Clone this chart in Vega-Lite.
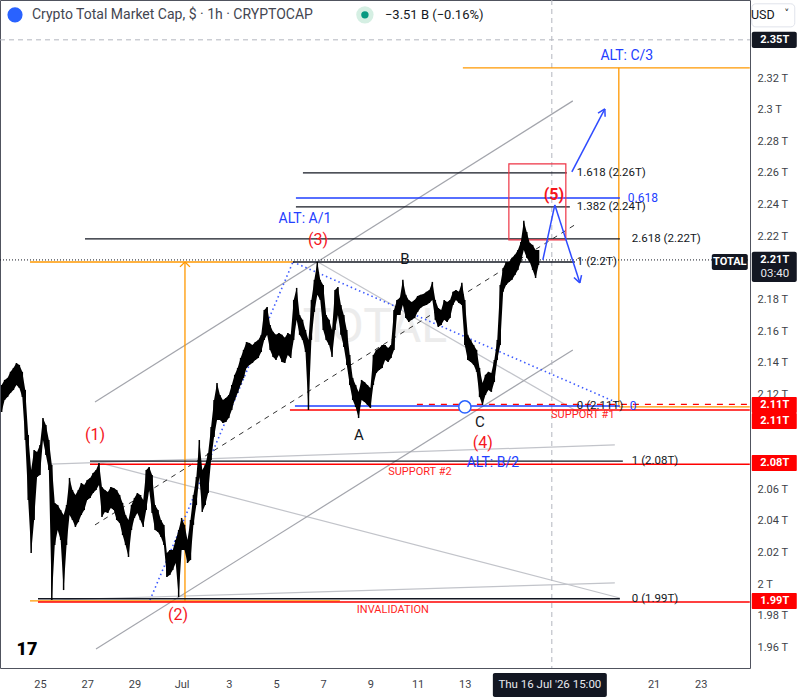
{
"$schema":"https://vega.github.io/schema/vega-lite/v6.json",
"width":750,"height":668,
"autosize":{"type":"none"},
"padding":{"left":0,"top":0,"right":50,"bottom":32},
"background":"#ffffff",
"config":{"view":{"stroke":"#50535e","strokeWidth":1},"font":"Roboto","text":{"font":"Roboto"}},
"encoding":{
 "x":{"field":"t","type":"temporal",
  "scale":{"domain":[{"year":2026,"month":"jun","date":23,"hours":7,"minutes":19},{"year":2026,"month":"jul","date":25,"hours":2,"minutes":2}]},
  "axis":{"title":null,"values":[{"year":2026,"month":"jun","date":25},{"year":2026,"month":"jun","date":27},{"year":2026,"month":"jun","date":29},{"year":2026,"month":"jul","date":1},{"year":2026,"month":"jul","date":3},{"year":2026,"month":"jul","date":5},{"year":2026,"month":"jul","date":7},{"year":2026,"month":"jul","date":9},{"year":2026,"month":"jul","date":11},{"year":2026,"month":"jul","date":13},{"year":2026,"month":"jul","date":21},{"year":2026,"month":"jul","date":23}],
   "labelExpr":"date(datum.value) == 1 ? 'Jul' : '' + date(datum.value)",
   "ticks":false,"tickSize":0,"domain":false,"grid":false,"labelPadding":10,"labelFontSize":11,"labelColor":"#3d3f48","labelFlush":false,"labelOverlap":false}},
 "y":{"field":"v","type":"quantitative",
  "scale":{"domain":[1.9469,2.3694],"zero":false,"nice":false},
  "axis":{"title":null,"orient":"right","values":[1.96,1.98,2,2.02,2.04,2.06,2.12,2.14,2.16,2.18,2.22,2.24,2.26,2.28,2.3,2.32],
   "labelExpr":"format(datum.value, '.2~f') + ' T'","ticks":false,"tickSize":0,"domain":false,"grid":false,"labelPadding":7,"labelFontSize":11,"labelColor":"#3d3f48","labelAlign":"left","labelBaseline":"middle","labelFlush":false,"labelOverlap":false}}
},
"datasets":{"candles":[
  {"t":"2026-06-23T09:00","v":2.1259,"v2":2.1088},{"t":"2026-06-23T12:00","v":2.1291,"v2":2.1164},{"t":"2026-06-23T15:00","v":2.1304,"v2":2.1183},{"t":"2026-06-23T18:00","v":2.1342,"v2":2.1209},{"t":"2026-06-23T21:00","v":2.1367,"v2":2.1228},
  {"t":"2026-06-24T00:00","v":2.1398,"v2":2.1259},{"t":"2026-06-24T03:00","v":2.1386,"v2":2.1240},{"t":"2026-06-24T06:00","v":2.1342,"v2":2.1183},{"t":"2026-06-24T09:00","v":2.1228,"v2":2.0911},{"t":"2026-06-24T12:00","v":2.0943,"v2":2.0532},{"t":"2026-06-24T15:00","v":2.0721,"v2":2.0196},{"t":"2026-06-24T18:00","v":2.0848,"v2":2.0405},{"t":"2026-06-24T21:00","v":2.0835,"v2":2.0677},
  {"t":"2026-06-25T00:00","v":2.0880,"v2":2.0690},{"t":"2026-06-25T03:00","v":2.1050,"v2":2.0911},{"t":"2026-06-25T06:00","v":2.1006,"v2":2.0816},{"t":"2026-06-25T09:00","v":2.0911,"v2":2.0721},{"t":"2026-06-25T12:00","v":2.0753,"v2":1.9899},{"t":"2026-06-25T15:00","v":2.0513,"v2":2.0247},{"t":"2026-06-25T18:00","v":2.0500,"v2":2.0342},{"t":"2026-06-25T21:00","v":2.0468,"v2":2.0279},
  {"t":"2026-06-26T00:00","v":2.0437,"v2":1.9962},{"t":"2026-06-26T03:00","v":2.0500,"v2":2.0247},{"t":"2026-06-26T06:00","v":2.0671,"v2":2.0437},{"t":"2026-06-26T09:00","v":2.0595,"v2":2.0405},{"t":"2026-06-26T12:00","v":2.0563,"v2":2.0361},{"t":"2026-06-26T15:00","v":2.0595,"v2":2.0392},{"t":"2026-06-26T18:00","v":2.0639,"v2":2.0437},{"t":"2026-06-26T21:00","v":2.0627,"v2":2.0468},
  {"t":"2026-06-27T00:00","v":2.0658,"v2":2.0532},{"t":"2026-06-27T03:00","v":2.0671,"v2":2.0544},{"t":"2026-06-27T06:00","v":2.0702,"v2":2.0576},{"t":"2026-06-27T09:00","v":2.0721,"v2":2.0595},{"t":"2026-06-27T12:00","v":2.0766,"v2":2.0627},{"t":"2026-06-27T15:00","v":2.0614,"v2":2.0424},{"t":"2026-06-27T18:00","v":2.0595,"v2":2.0456},{"t":"2026-06-27T21:00","v":2.0582,"v2":2.0449},
  {"t":"2026-06-28T00:00","v":2.0614,"v2":2.0481},{"t":"2026-06-28T03:00","v":2.0608,"v2":2.0468},{"t":"2026-06-28T06:00","v":2.0595,"v2":2.0405},{"t":"2026-06-28T09:00","v":2.0563,"v2":2.0386},{"t":"2026-06-28T12:00","v":2.0513,"v2":2.0310},{"t":"2026-06-28T15:00","v":2.0437,"v2":2.0247},{"t":"2026-06-28T18:00","v":2.0405,"v2":2.0171},{"t":"2026-06-28T21:00","v":2.0500,"v2":2.0342},
  {"t":"2026-06-29T00:00","v":2.0544,"v2":2.0418},{"t":"2026-06-29T03:00","v":2.0576,"v2":2.0449},{"t":"2026-06-29T06:00","v":2.0563,"v2":2.0405},{"t":"2026-06-29T09:00","v":2.0532,"v2":2.0361},{"t":"2026-06-29T12:00","v":2.0721,"v2":2.0468},{"t":"2026-06-29T15:00","v":2.0740,"v2":2.0595},{"t":"2026-06-29T18:00","v":2.0690,"v2":2.0449},{"t":"2026-06-29T21:00","v":2.0500,"v2":2.0342},
  {"t":"2026-06-30T00:00","v":2.0468,"v2":2.0329},{"t":"2026-06-30T03:00","v":2.0405,"v2":2.0298},{"t":"2026-06-30T06:00","v":2.0374,"v2":2.0247},{"t":"2026-06-30T09:00","v":2.0196,"v2":2.0045},{"t":"2026-06-30T12:00","v":2.0215,"v2":2.0057},{"t":"2026-06-30T15:00","v":2.0215,"v2":2.0089},{"t":"2026-06-30T18:00","v":2.0279,"v2":2.0133},{"t":"2026-06-30T21:00","v":2.0342,"v2":1.9918},
  {"t":"2026-07-01T00:00","v":2.0418,"v2":2.0215},{"t":"2026-07-01T03:00","v":2.0374,"v2":2.0215},{"t":"2026-07-01T06:00","v":2.0279,"v2":2.0133},{"t":"2026-07-01T09:00","v":2.0405,"v2":2.0152},{"t":"2026-07-01T12:00","v":2.0563,"v2":2.0374},{"t":"2026-07-01T15:00","v":2.0677,"v2":2.0500},{"t":"2026-07-01T18:00","v":2.0911,"v2":2.0677},{"t":"2026-07-01T21:00","v":2.0721,"v2":2.0456},
  {"t":"2026-07-02T00:00","v":2.0753,"v2":2.0500},{"t":"2026-07-02T03:00","v":2.0829,"v2":2.0576},{"t":"2026-07-02T06:00","v":2.0994,"v2":2.0785},{"t":"2026-07-02T09:00","v":2.1164,"v2":2.0930},{"t":"2026-07-02T12:00","v":2.1272,"v2":2.1038},{"t":"2026-07-02T15:00","v":2.1196,"v2":2.1038},{"t":"2026-07-02T18:00","v":2.1164,"v2":2.1019},{"t":"2026-07-02T21:00","v":2.1177,"v2":2.1025},
  {"t":"2026-07-03T00:00","v":2.1196,"v2":2.1050},{"t":"2026-07-03T03:00","v":2.1259,"v2":2.1101},{"t":"2026-07-03T06:00","v":2.1323,"v2":2.1164},{"t":"2026-07-03T09:00","v":2.1367,"v2":2.1209},{"t":"2026-07-03T12:00","v":2.1430,"v2":2.1259},{"t":"2026-07-03T15:00","v":2.1481,"v2":2.1304},{"t":"2026-07-03T18:00","v":2.1531,"v2":2.1367},{"t":"2026-07-03T21:00","v":2.1525,"v2":2.1386},
  {"t":"2026-07-04T00:00","v":2.1512,"v2":2.1398},{"t":"2026-07-04T03:00","v":2.1531,"v2":2.1417},{"t":"2026-07-04T06:00","v":2.1544,"v2":2.1430},{"t":"2026-07-04T09:00","v":2.1576,"v2":2.1468},{"t":"2026-07-04T12:00","v":2.1734,"v2":2.1544},{"t":"2026-07-04T15:00","v":2.1753,"v2":2.1576},{"t":"2026-07-04T18:00","v":2.1639,"v2":2.1481},{"t":"2026-07-04T21:00","v":2.1595,"v2":2.1436},
  {"t":"2026-07-05T00:00","v":2.1576,"v2":2.1417},{"t":"2026-07-05T03:00","v":2.1588,"v2":2.1449},{"t":"2026-07-05T06:00","v":2.1576,"v2":2.1405},{"t":"2026-07-05T09:00","v":2.1557,"v2":2.1398},{"t":"2026-07-05T12:00","v":2.1588,"v2":2.1449},{"t":"2026-07-05T15:00","v":2.1576,"v2":2.1430},{"t":"2026-07-05T18:00","v":2.1797,"v2":2.1544},{"t":"2026-07-05T21:00","v":2.1873,"v2":2.1671},
  {"t":"2026-07-06T00:00","v":2.1702,"v2":2.1576},{"t":"2026-07-06T03:00","v":2.1671,"v2":2.1544},{"t":"2026-07-06T06:00","v":2.1607,"v2":2.1468},{"t":"2026-07-06T09:00","v":2.1544,"v2":2.1101},{"t":"2026-07-06T12:00","v":2.1797,"v2":2.1544},{"t":"2026-07-06T15:00","v":2.1924,"v2":2.1721},{"t":"2026-07-06T18:00","v":2.2037,"v2":2.1829},{"t":"2026-07-06T21:00","v":2.1924,"v2":2.1797},
  {"t":"2026-07-07T00:00","v":2.1892,"v2":2.1607},{"t":"2026-07-07T03:00","v":2.1702,"v2":2.1544},{"t":"2026-07-07T06:00","v":2.1671,"v2":2.1512},{"t":"2026-07-07T09:00","v":2.1607,"v2":2.1436},{"t":"2026-07-07T12:00","v":2.1860,"v2":2.1607},{"t":"2026-07-07T15:00","v":2.1879,"v2":2.1702},{"t":"2026-07-07T18:00","v":2.1765,"v2":2.1576},{"t":"2026-07-07T21:00","v":2.1702,"v2":2.1500},
  {"t":"2026-07-08T00:00","v":2.1607,"v2":2.1386},{"t":"2026-07-08T03:00","v":2.1449,"v2":2.1259},{"t":"2026-07-08T06:00","v":2.1304,"v2":2.1164},{"t":"2026-07-08T09:00","v":2.1259,"v2":2.1120},{"t":"2026-07-08T12:00","v":2.1215,"v2":2.1050},{"t":"2026-07-08T15:00","v":2.1291,"v2":2.1164},{"t":"2026-07-08T18:00","v":2.1278,"v2":2.1152},{"t":"2026-07-08T21:00","v":2.1259,"v2":2.1133},
  {"t":"2026-07-09T00:00","v":2.1240,"v2":2.1114},{"t":"2026-07-09T03:00","v":2.1449,"v2":2.1259},{"t":"2026-07-09T06:00","v":2.1481,"v2":2.1335},{"t":"2026-07-09T09:00","v":2.1493,"v2":2.1354},{"t":"2026-07-09T12:00","v":2.1512,"v2":2.1367},{"t":"2026-07-09T15:00","v":2.1512,"v2":2.1417},{"t":"2026-07-09T18:00","v":2.1493,"v2":2.1405},{"t":"2026-07-09T21:00","v":2.1512,"v2":2.1430},
  {"t":"2026-07-10T00:00","v":2.1734,"v2":2.1481},{"t":"2026-07-10T03:00","v":2.1797,"v2":2.1702},{"t":"2026-07-10T06:00","v":2.1810,"v2":2.1702},{"t":"2026-07-10T09:00","v":2.1924,"v2":2.1765},{"t":"2026-07-10T12:00","v":2.1829,"v2":2.1683},{"t":"2026-07-10T15:00","v":2.1797,"v2":2.1658},{"t":"2026-07-10T18:00","v":2.1784,"v2":2.1671},{"t":"2026-07-10T21:00","v":2.1797,"v2":2.1683},
  {"t":"2026-07-11T00:00","v":2.1822,"v2":2.1721},{"t":"2026-07-11T03:00","v":2.1829,"v2":2.1746},{"t":"2026-07-11T06:00","v":2.1835,"v2":2.1759},{"t":"2026-07-11T09:00","v":2.1848,"v2":2.1765},{"t":"2026-07-11T12:00","v":2.1860,"v2":2.1778},{"t":"2026-07-11T15:00","v":2.1911,"v2":2.1797},{"t":"2026-07-11T18:00","v":2.1797,"v2":2.1671},{"t":"2026-07-11T21:00","v":2.1746,"v2":2.1626},
  {"t":"2026-07-12T00:00","v":2.1734,"v2":2.1639},{"t":"2026-07-12T03:00","v":2.1797,"v2":2.1671},{"t":"2026-07-12T06:00","v":2.1784,"v2":2.1658},{"t":"2026-07-12T09:00","v":2.1797,"v2":2.1683},{"t":"2026-07-12T12:00","v":2.1848,"v2":2.1765},{"t":"2026-07-12T15:00","v":2.1860,"v2":2.1797},{"t":"2026-07-12T18:00","v":2.1848,"v2":2.1778},{"t":"2026-07-12T21:00","v":2.1905,"v2":2.1765},
  {"t":"2026-07-13T00:00","v":2.1797,"v2":2.1512},{"t":"2026-07-13T03:00","v":2.1576,"v2":2.1417},{"t":"2026-07-13T06:00","v":2.1544,"v2":2.1405},{"t":"2026-07-13T09:00","v":2.1512,"v2":2.1386},{"t":"2026-07-13T12:00","v":2.1481,"v2":2.1342},{"t":"2026-07-13T15:00","v":2.1367,"v2":2.1183},{"t":"2026-07-13T18:00","v":2.1272,"v2":2.1133},{"t":"2026-07-13T21:00","v":2.1323,"v2":2.1196},
  {"t":"2026-07-14T00:00","v":2.1342,"v2":2.1228},{"t":"2026-07-14T03:00","v":2.1335,"v2":2.1215},{"t":"2026-07-14T06:00","v":2.1417,"v2":2.1278},{"t":"2026-07-14T09:00","v":2.1544,"v2":2.1417},{"t":"2026-07-14T12:00","v":2.1892,"v2":2.1512},{"t":"2026-07-14T15:00","v":2.1999,"v2":2.1848},{"t":"2026-07-14T18:00","v":2.2037,"v2":2.1892},{"t":"2026-07-14T21:00","v":2.2037,"v2":2.1911},
  {"t":"2026-07-15T00:00","v":2.2063,"v2":2.1924},{"t":"2026-07-15T03:00","v":2.2082,"v2":2.1955},{"t":"2026-07-15T06:00","v":2.2113,"v2":2.1987},{"t":"2026-07-15T09:00","v":2.2164,"v2":2.2037},{"t":"2026-07-15T12:00","v":2.2297,"v2":2.2113},{"t":"2026-07-15T15:00","v":2.2227,"v2":2.2063},{"t":"2026-07-15T18:00","v":2.2158,"v2":2.2037},{"t":"2026-07-15T21:00","v":2.2145,"v2":2.1987},
  {"t":"2026-07-16T00:00","v":2.2113,"v2":2.1936},{"t":"2026-07-16T03:00","v":2.2113,"v2":2.2018}]},
"layer":[
 {"data":{"values":[{"t":"2026-07-09T04:35","v":2.1620,"label":"TOTAL"}]},
  "mark":{"type":"text","fontSize":48,"color":"#ececec","align":"center","baseline":"middle"},
  "encoding":{"text":{"field":"label"}}},
 {"data":{"values":[
  {"t":"2026-06-25T10:10","v":2.0759,"t2":"2026-07-19T08:34","v2":2.0880},
  {"t":"2026-06-27T13:00","v":2.0766,"t2":"2026-07-19T13:40","v2":1.9912},
  {"t":"2026-06-25T10:10","v":1.9899,"t2":"2026-07-19T08:34","v2":2.0007},
  {"t":"2026-07-06T18:38","v":2.2037,"t2":"2026-07-17T20:59","v2":2.1082}]},
  "mark":{"type":"rule","color":"#c2c4ca","strokeWidth":1.2},
  "encoding":{"x2":{"field":"t2"},"y2":{"field":"v2"}}},
 {"data":{"values":[
  {"t":"2026-06-27T07:55","v":2.1152,"t2":"2026-07-17T13:52","v2":2.3056},
  {"t":"2026-06-27T08:56","v":1.9589,"t2":"2026-07-17T13:52","v2":2.1481}]},
  "mark":{"type":"rule","color":"#a3a5ac","strokeWidth":1.2},
  "encoding":{"x2":{"field":"t2"},"y2":{"field":"v2"}}},
 {"data":{"values":[{"t":"2026-06-27T07:55","v":2.0374,"t2":"2026-07-17T15:55","v2":2.2272}]},
  "mark":{"type":"rule","color":"#333333","strokeWidth":1,"strokeDash":[5,5]},
  "encoding":{"x2":{"field":"t2"},"y2":{"field":"v2"}}},
 {"data":{"values":[
  {"t":"2026-06-23T07:19","v":2.3442,"t2":"2026-07-25T02:00","v2":2.3442},
  {"t":"2026-07-16T16:30","v":2.3694,"t2":"2026-07-16T16:30","v2":1.9469}]},
  "mark":{"type":"rule","color":"#b2b5be","strokeWidth":1,"strokeDash":[5,4]},
  "encoding":{"x2":{"field":"t2"},"y2":{"field":"v2"}}},
 {"data":{"values":[
  {"t":"2026-06-24T13:50","v":2.2037,"t2":"2026-07-05T17:13","v2":2.2037},
  {"t":"2026-07-01T03:25","v":2.2037,"t2":"2026-07-01T03:25","v2":1.9893},
  {"t":"2026-06-24T13:50","v":1.9893,"t2":"2026-07-07T17:00","v2":1.9893},
  {"t":"2026-07-12T22:02","v":2.3265,"t2":"2026-07-25T01:49","v2":2.3265},
  {"t":"2026-07-19T12:38","v":2.3265,"t2":"2026-07-19T12:38","v2":2.1120},
  {"t":"2026-07-19T12:38","v":2.1120,"t2":"2026-07-25T01:49","v2":2.1120},
  {"t":"2026-06-30T22:20","v":2.2006,"t2":"2026-07-01T03:25","v2":2.2037},
  {"t":"2026-07-01T08:30","v":2.2006,"t2":"2026-07-01T03:25","v2":2.2037}]},
  "mark":{"type":"rule","color":"#ff9800","strokeWidth":1.3},
  "encoding":{"x2":{"field":"t2"},"y2":{"field":"v2"}}},
 {"data":{"values":[
  {"t":"2026-06-29T15:50","v":1.9899,"t2":"2026-07-05T17:13","v2":2.2037},
  {"t":"2026-07-05T17:13","v":2.2037,"t2":"2026-07-19T11:37","v2":2.1145}]},
  "mark":{"type":"rule","color":"#3d5afe","strokeWidth":1.6,"strokeDash":[1.5,3]},
  "encoding":{"x2":{"field":"t2"},"y2":{"field":"v2"}}},
 {"data":{"values":[
  {"t":"2026-06-26T21:45","v":2.2183,"t2":"2026-07-19T13:40","v2":2.2183},
  {"t":"2026-07-05T17:13","v":2.2037,"t2":"2026-07-17T15:55","v2":2.2037},
  {"t":"2026-07-05T20:16","v":2.2385,"t2":"2026-07-17T10:49","v2":2.2385},
  {"t":"2026-07-06T03:23","v":2.2601,"t2":"2026-07-17T07:46","v2":2.2601},
  {"t":"2026-06-27T02:50","v":2.0778,"t2":"2026-07-19T16:43","v2":2.0778},
  {"t":"2026-06-24T21:58","v":1.9907,"t2":"2026-07-19T13:40","v2":1.9907}]},
  "mark":{"type":"rule","color":"#131722","strokeWidth":1.3},
  "encoding":{"x2":{"field":"t2"},"y2":{"field":"v2"}}},
 {"data":{"values":[
  {"t":"2026-07-05T20:16","v":2.2442,"t2":"2026-07-19T13:40","v2":2.2442},
  {"t":"2026-07-05T19:15","v":2.1126,"t2":"2026-07-19T13:40","v2":2.1126}]},
  "mark":{"type":"rule","color":"#1f3fff","strokeWidth":1.5},
  "encoding":{"x2":{"field":"t2"},"y2":{"field":"v2"}}},
 {"data":{"values":[
  {"t":"2026-07-05T14:10","v":2.1101,"t2":"2026-07-25T01:49","v2":2.1101},
  {"t":"2026-06-27T02:50","v":2.0758,"t2":"2026-07-25T01:49","v2":2.0758},
  {"t":"2026-06-24T21:58","v":1.9887,"t2":"2026-07-25T01:49","v2":1.9887}]},
  "mark":{"type":"rule","color":"#ff0000","strokeWidth":1.5},
  "encoding":{"x2":{"field":"t2"},"y2":{"field":"v2"}}},
 {"data":{"values":[{"t":"2026-07-10T23:17","v":2.1136,"t2":"2026-07-25T01:49","v2":2.1136}]},
  "mark":{"type":"rule","color":"#ff0000","strokeWidth":1.3,"strokeDash":[6,6]},
  "encoding":{"x2":{"field":"t2"},"y2":{"field":"v2"}}},
 {"data":{"values":[{"t":"2026-07-14T20:49","v":2.2177,"t2":"2026-07-17T06:45","v2":2.2657}]},
  "mark":{"type":"rect","fill":"transparent","stroke":"#ee3344","strokeWidth":1.2},
  "encoding":{"x2":{"field":"t2"},"y2":{"field":"v2"}}},
 {"data":{"values":[{"t":"2026-06-23T07:19","v":2.2050,"t2":"2026-07-25T02:00","v2":2.2050}]},
  "mark":{"type":"rule","color":"#131722","strokeWidth":1,"strokeDash":[1,2]},
  "encoding":{"x2":{"field":"t2"},"y2":{"field":"v2"}}},
 {"data":{"name":"candles"},
  "mark":{"type":"area","color":"#000000","opacity":1,"interpolate":"linear"},
  "encoding":{"y2":{"field":"v2"}}},
 {"data":{"name":"candles"},
  "mark":{"type":"rule","color":"#000000","strokeWidth":1.5},
  "encoding":{"y2":{"field":"v2"}}},
 {"data":{"values":[
  {"t":"2026-07-17T12:52","v":2.2607,"t2":"2026-07-18T22:25","v2":2.3005},
  {"t":"2026-07-18T15:30","v":2.2978,"t2":"2026-07-18T22:25","v2":2.3005},
  {"t":"2026-07-18T22:42","v":2.2955,"t2":"2026-07-18T22:25","v2":2.3005},
  {"t":"2026-07-16T07:22","v":2.2050,"t2":"2026-07-16T19:34","v2":2.2398},
  {"t":"2026-07-16T19:34","v":2.2398,"t2":"2026-07-17T20:59","v2":2.1905},
  {"t":"2026-07-17T22:43","v":2.1954,"t2":"2026-07-17T20:59","v2":2.1905},
  {"t":"2026-07-17T15:00","v":2.1939,"t2":"2026-07-17T20:59","v2":2.1905}]},
  "mark":{"type":"rule","color":"#2f4bff","strokeWidth":1.5},
  "encoding":{"x2":{"field":"t2"},"y2":{"field":"v2"}}},
 {"data":{"values":[{"t":"2026-07-13T00:05","v":2.1120}]},
  "mark":{"type":"point","filled":true,"fill":"#ffffff","stroke":"#2962ff","strokeWidth":1.5,"size":150,"opacity":1}},
 {"data":{"values":[
  {"t":"2026-06-27T07:55","v":2.0943,"label":"(1)"},
  {"t":"2026-06-30T20:18","v":1.9804,"label":"(2)"},
  {"t":"2026-07-06T18:38","v":2.2177,"label":"(3)"},
  {"t":"2026-07-13T18:23","v":2.0892,"label":"(4)"}]},
  "mark":{"type":"text","fontSize":16,"color":"#f5161d","align":"center","baseline":"middle"},
  "encoding":{"text":{"field":"label"}}},
 {"data":{"values":[{"t":"2026-07-16T18:34","v":2.2461,"label":"(5)"}]},
  "mark":{"type":"text","fontSize":16,"fontWeight":"bold","color":"#f5161d","align":"center","baseline":"middle"},
  "encoding":{"text":{"field":"label"}}},
 {"data":{"values":[
  {"t":"2026-07-08T12:19","v":2.0943,"label":"A"},
  {"t":"2026-07-10T11:05","v":2.2056,"label":"B"},
  {"t":"2026-07-13T15:20","v":2.1025,"label":"C"}]},
  "mark":{"type":"text","fontSize":15,"color":"#131722","align":"center","baseline":"middle"},
  "encoding":{"text":{"field":"label"}}},
 {"data":{"values":[
  {"t":"2026-07-06T05:25","v":2.2310,"label":"ALT: A/1"},
  {"t":"2026-07-14T04:32","v":2.0766,"label":"ALT: B/2"},
  {"t":"2026-07-19T20:46","v":2.3341,"label":"ALT: C/3"}]},
  "mark":{"type":"text","fontSize":14,"color":"#2340ff","align":"center","baseline":"middle"},
  "encoding":{"text":{"field":"label"}}},
 {"data":{"values":[
  {"t":"2026-07-18T00:02","v":2.1069,"label":"SUPPORT #1"},
  {"t":"2026-07-11T02:20","v":2.0709,"label":"SUPPORT #2"},
  {"t":"2026-07-09T22:53","v":1.9836,"label":"INVALIDATION"}]},
  "mark":{"type":"text","fontSize":11,"color":"#ff1f1f","align":"center","baseline":"middle"},
  "encoding":{"text":{"field":"label"}}},
 {"data":{"values":[
  {"t":"2026-07-17T17:56","v":2.2601,"label":"1.618 (2.26T)"},
  {"t":"2026-07-17T17:56","v":2.2385,"label":"1.382 (2.24T)"},
  {"t":"2026-07-17T17:56","v":2.2037,"label":"1 (2.2T)"},
  {"t":"2026-07-17T17:56","v":2.1126,"label":"0 (2.11T)"},
  {"t":"2026-07-20T01:52","v":2.2183,"label":"2.618 (2.22T)"},
  {"t":"2026-07-20T01:52","v":2.0778,"label":"1 (2.08T)"},
  {"t":"2026-07-20T01:52","v":1.9905,"label":"0 (1.99T)"}]},
  "mark":{"type":"text","fontSize":11.5,"color":"#131722","align":"left","baseline":"middle"},
  "encoding":{"text":{"field":"label"}}},
 {"data":{"values":[
  {"t":"2026-07-19T21:48","v":2.2442,"label":"0.618"},
  {"t":"2026-07-19T23:49","v":2.1126,"label":"0"}]},
  "mark":{"type":"text","fontSize":12,"color":"#2340ff","align":"left","baseline":"middle"},
  "encoding":{"text":{"field":"label"}}},
 {"data":{"values":[
  {"t":"2026-07-25T03:51","v":2.3493,"t2":"2026-07-27T01:36","v2":2.3391},
  {"t":"2026-07-25T03:51","v":2.2101,"t2":"2026-07-27T01:36","v2":2.1911},
  {"t":"2026-07-23T11:11","v":2.2088,"t2":"2026-07-24T23:47","v2":2.1987},
  {"t":"2026-07-14T04:32","v":1.9437,"t2":"2026-07-19T00:26","v2":1.9285}]},
  "mark":{"type":"rect","color":"#131722","cornerRadius":2,"clip":false},
  "encoding":{"x2":{"field":"t2"},"y2":{"field":"v2"}}},
 {"data":{"values":[
  {"t":"2026-07-25T03:51","v":2.1183,"t2":"2026-07-27T01:36","v2":2.1082},
  {"t":"2026-07-25T03:51","v":2.1082,"t2":"2026-07-27T01:36","v2":2.0981},
  {"t":"2026-07-25T03:51","v":2.0816,"t2":"2026-07-27T01:36","v2":2.0715},
  {"t":"2026-07-25T03:51","v":1.9943,"t2":"2026-07-27T01:36","v2":1.9842}]},
  "mark":{"type":"rect","color":"#ff0000","cornerRadius":1,"clip":false},
  "encoding":{"x2":{"field":"t2"},"y2":{"field":"v2"}}},
 {"data":{"values":[
  {"t":"2026-07-26T03:14","v":2.3442,"label":"2.35T"},
  {"t":"2026-07-26T03:14","v":2.2050,"label":"2.21T"},
  {"t":"2026-07-26T03:14","v":2.1133,"label":"2.11T"},
  {"t":"2026-07-26T03:14","v":2.1031,"label":"2.11T"},
  {"t":"2026-07-26T03:14","v":2.0766,"label":"2.08T"},
  {"t":"2026-07-26T03:14","v":1.9893,"label":"1.99T"},
  {"t":"2026-07-24T05:30","v":2.2037,"label":"TOTAL"}]},
  "mark":{"type":"text","fontSize":11,"fontWeight":"bold","color":"#ffffff","align":"center","baseline":"middle","clip":false},
  "encoding":{"text":{"field":"label"}}},
 {"data":{"values":[
  {"t":"2026-07-26T03:14","v":2.1961,"label":"03:40"},
  {"t":"2026-07-16T14:30","v":1.9361,"label":"Thu 16 Jul '26   15:00"}]},
  "mark":{"type":"text","fontSize":11.5,"color":"#e8e9ee","align":"center","baseline":"middle","clip":false},
  "encoding":{"text":{"field":"label"}}},
 {"data":{"values":[{"t":"2026-07-25T03:51","v":2.3670,"t2":"2026-07-26T23:34","v2":2.3524}]},
  "mark":{"type":"rect","fill":"#ffffff","stroke":"#e0e3eb","strokeWidth":1,"cornerRadius":4,"clip":false},
  "encoding":{"x2":{"field":"t2"},"y2":{"field":"v2"}}},
 {"data":{"values":[{"t":"2026-07-25T15:01","v":2.3600,"label":"USD"}]},
  "mark":{"type":"text","fontSize":12.5,"color":"#131722","align":"center","baseline":"middle","clip":false},
  "encoding":{"text":{"field":"label"}}},
 {"data":{"values":[{"t":"2026-07-26T15:24","v":2.3606,"label":"˅"}]},
  "mark":{"type":"text","fontSize":10,"font":"DejaVu Sans","color":"#131722","align":"center","baseline":"middle","clip":false},
  "encoding":{"text":{"field":"label"}}},
 {"data":{"values":[{"t":"2026-06-23T22:35","v":2.3600}]},
  "mark":{"type":"point","filled":true,"color":"#2962ff","size":230,"opacity":1}},
 {"data":{"values":[{"t":"2026-07-08T18:25","v":2.3600}]},
  "mark":{"type":"point","filled":true,"color":"#d5efe3","size":300,"opacity":1}},
 {"data":{"values":[{"t":"2026-07-08T18:25","v":2.3600}]},
  "mark":{"type":"point","filled":true,"color":"#089981","size":55,"opacity":1}},
 {"data":{"values":[{"t":"2026-06-24T15:52","v":2.3600,"label":"Crypto Total Market Cap, $ · 1h · CRYPTOCAP"}]},
  "mark":{"type":"text","fontSize":14,"color":"#434651","align":"left","baseline":"middle"},
  "encoding":{"text":{"field":"label"}}},
 {"data":{"values":[{"t":"2026-07-09T14:44","v":2.3600,"label":"−3.51 B (−0.16%)"}]},
  "mark":{"type":"text","fontSize":13,"color":"#131722","align":"left","baseline":"middle"},
  "encoding":{"text":{"field":"label"}}},
 {"data":{"values":[{"t":"2026-06-24T10:47","v":1.9583,"label":"17"}]},
  "mark":{"type":"text","fontSize":18,"fontWeight":900,"color":"#000000","align":"center","baseline":"middle"},
  "encoding":{"text":{"field":"label"}}}
]
}
